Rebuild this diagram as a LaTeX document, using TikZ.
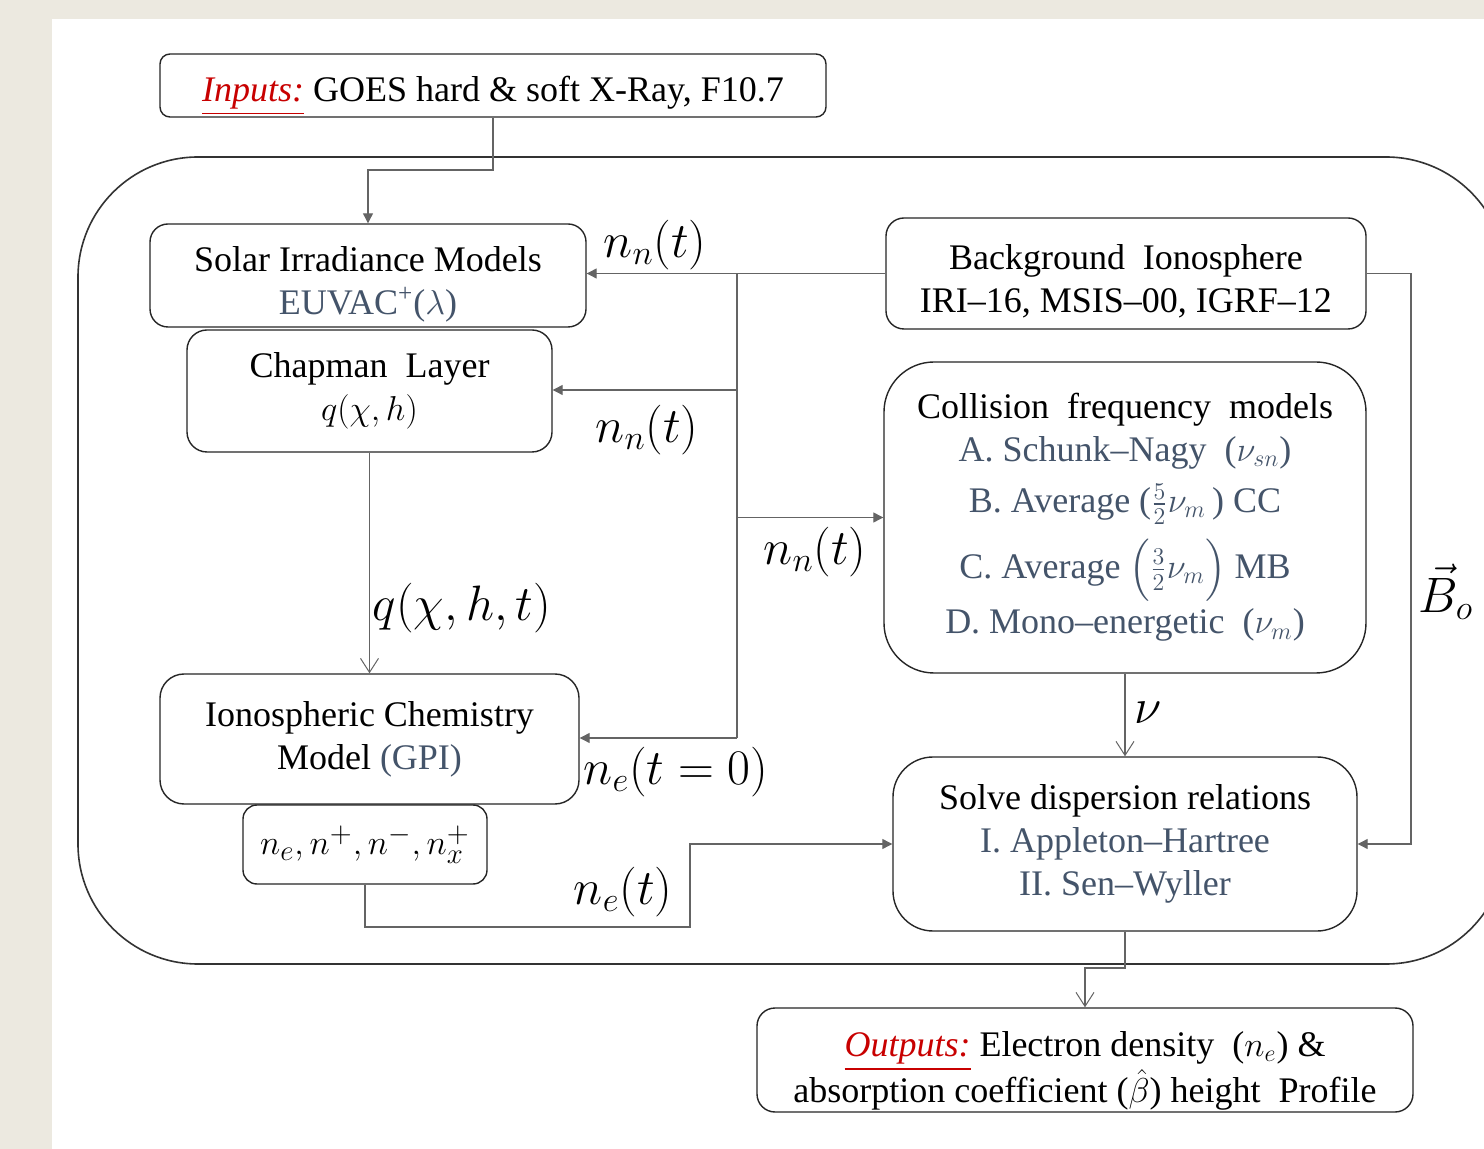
\documentclass[tikz,border=0pt]{standalone}
\usepackage{amsmath}
\usepackage{fontspec}
\setmainfont{Liberation Serif}
\usetikzlibrary{arrows.meta}
\definecolor{beige}{RGB}{236,233,224}
\definecolor{subtxt}{RGB}{68,84,106}
\definecolor{inred}{RGB}{200,0,0}
\definecolor{conngray}{RGB}{100,100,100}
\newcommand{\subc}[1]{\textcolor{subtxt}{#1}}
\newcommand{\hstrut}[1]{\rule{0pt}{#1}}
\begin{document}
\begin{tikzpicture}[x=0.5pt,y=-0.5pt,
 box/.style={draw=black!85, line width=0.7pt, align=center, inner sep=0pt, font=\fontsize{18}{21.5}\selectfont},
 conn/.style={draw=conngray, line width=0.6pt},
 tri/.style={-{Triangle[length=5pt,width=5pt]}},
 vee/.style={-{Straight Barb[length=7pt,width=9pt,line width=0.5pt]}},
 lbl/.style={font=\fontsize{24}{28}\selectfont, inner sep=0pt}]
\useasboundingbox (0,0) rectangle (1484,1149);
\fill[beige] (0,0) rectangle (1484,1149);
\fill[white] (52,19) rectangle (1484,1149);
\begin{scope}
\clip (0,0) rectangle (1484,1149);
\draw[black!80, line width=0.8pt, rounded corners=60pt] (78,157) rectangle (1506,964);
\end{scope}

% boxes
\node[box, rounded corners=5pt, minimum width=333pt, minimum height=31.5pt] (inputs) at (493,85.5)
 {\hstrut{23pt}\textcolor{inred}{\underline{\textit{Inputs:}}} GOES hard \& soft X-Ray, F10.7};
\node[box, rounded corners=9pt, minimum width=218pt, minimum height=51.5pt] (solar) at (368,275.5)
 {\hstrut{21pt}Solar Irradiance Models\\ \subc{EUVAC\textsuperscript{+}($\lambda$)}};
\node[box, rounded corners=10pt, minimum width=182.5pt, minimum height=61pt] (chap) at (369.5,391)
 {Chapman\ \ Layer\\ $q(\chi,h)$};
\node[box, rounded corners=12pt, minimum width=209.5pt, minimum height=65pt] (chem) at (369.5,739)
 {Ionospheric Chemistry\\ Model \subc{(GPI)}};
\node[box, rounded corners=7pt, minimum width=122pt, minimum height=39.5pt, font=\fontsize{19}{23}\selectfont] (dens) at (365,844.5)
 {$n_e,n^{+},n^{-},n_x^{+}$};
\node[box, rounded corners=9pt, minimum width=240pt, minimum height=55.5pt] (bg) at (1126,273.5)
 {\hstrut{20pt}Background\ \ Ionosphere\\ IRI--16, MSIS--00, IGRF--12};
\node[box, rounded corners=25pt, minimum width=241pt, minimum height=155.5pt] (coll) at (1125,517.5)
 {Collision\ \ frequency\ \ models\\
  \subc{A. Schunk--Nagy\ \ ($\nu_{sn}$)}\\[4pt]
  \subc{B. Average ($\tfrac{5}{2}\nu_m$\,) CC}\\[6pt]
  \subc{C. Average $\Bigl(\tfrac{3}{2}\nu_m\Bigr)$ MB}\\[3pt]
  \subc{D. Mono--energetic\ \ ($\nu_m$)}};
\node[box, rounded corners=20pt, minimum width=232pt, minimum height=87pt] (solve) at (1125,844)
 {Solve dispersion relations\\ \subc{I. Appleton--Hartree}\\ \subc{II. Sen--Wyller}};
\node[box, rounded corners=9pt, minimum width=328pt, minimum height=52pt] (out) at (1085,1060)
 {\hstrut{23.5pt}\textcolor{inred}{\underline{\textit{Outputs:}}} Electron density\ \ ($n_e$) \&\\[1.5pt]
  absorption coefficient ($\smash{\hat{\beta}}$) height\ \ Profile};

% junction points
\coordinate (jt) at (737,273.5);
\coordinate (jc) at (737,390);
\coordinate (jm) at (737,517.5);
\coordinate (jb) at (737,738);
\coordinate (ia) at (493,170);
\coordinate (da) at (365,927);
\coordinate (db) at (690,927);
\coordinate (ba) at (1411,273.5);
\coordinate (sa) at (1125,968);

% connectors
\draw[conn,tri] (inputs.south) -- (ia) -| (solar.north);
\draw[conn,tri] (bg.west) -- (jt) -- (solar.east |- jt);
\draw[conn] (jt) -- (jb);
\draw[conn,tri] (jc) -- (chap.east |- jc);
\draw[conn,tri] (jm) -- (coll.west |- jm);
\draw[conn,tri] (jb) -- (chem.east |- jb);
\draw[conn,vee] (chap.south) -- (chem.north);
\draw[conn,tri] (dens.south) -- (da) -- (db) |- (solve.west);
\draw[conn,tri] (bg.east) -- (ba) |- (solve.east);
\draw[conn,vee] (coll.south) -- (solve.north);
\draw[conn,vee] (solve.south) -- (sa) -| (out.north);

% labels
\node[lbl] (l1) at (655,245) {$n_n(t)$};
\node[lbl] (l2) at (647,430) {$n_n(t)$};
\node[lbl] (l3) at (815,552) {$n_n(t)$};
\node[lbl] (l4) at (676,772) {$n_e(t=0)$};
\node[lbl] (l5) at (462,608) {$q(\chi,h,t)$};
\node[lbl] (l6) at (623,892) {$n_e(t)$};
\node[lbl] (l7) at (1148,713) {$\nu$};
\node[lbl] (l8) at (1446,592) {$\vec{B}_o$};
\end{tikzpicture}
\end{document}
